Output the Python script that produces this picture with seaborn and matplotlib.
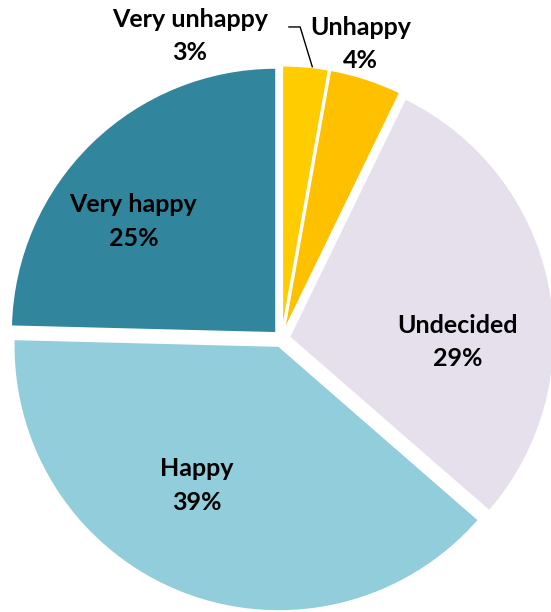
import matplotlib
matplotlib.use("Agg")
import matplotlib.pyplot as plt
import seaborn as sns
import numpy as np

sns.set_theme(style="white")
plt.rcParams["font.family"] = ["Lato", "DejaVu Sans"]

# Survey responses (share of respondents, %)
categories = ["Very unhappy", "Unhappy", "Undecided", "Happy", "Very happy"]
shares = [2.8, 4.4, 29.2, 39.0, 24.6]
colors = ["#FFCC00", "#FFC000", "#E6E0EC", "#92CDDC", "#31859C"]

# Label anchor points, in units of the pie radius
label_pos = [(-0.347, 1.142), (0.297, 1.112), (0.664, -0.013),
             (-0.320, -0.555), (-0.559, 0.442)]

W, H, DPI = 551, 612, 100
cx, cy, R = 281.6, 338.6, 265.0

fig = plt.figure(figsize=(W / DPI, H / DPI), dpi=DPI)
ax = fig.add_axes([0, 0, 1, 1])

wedges, _ = ax.pie(
    shares,
    colors=colors,
    startangle=90,
    counterclock=False,
    explode=[0.03] * len(shares),
    radius=1.0,
    wedgeprops=dict(edgecolor="white", linewidth=1.2),
)

ax.set_xlim(-cx / R, (W - cx) / R)
ax.set_ylim(-(H - cy) / R, cy / R)
ax.set_aspect("equal")
ax.axis("off")

for name, val, (x, y) in zip(categories, shares, label_pos):
    ax.text(x, y, f"{name}\n{val:.0f}%", ha="center", va="center",
            fontsize=18, fontweight="bold", color="black", linespacing=1.55)

# Leader line from the smallest slice to its label
w0 = wedges[0]
mid = np.deg2rad((w0.theta1 + w0.theta2) / 2 - 1.5)
ex, ey = w0.center
tip = (ex + w0.r * np.cos(mid), ey + w0.r * np.sin(mid))
elbow_y = 1.176
ax.plot([0.025, 0.070, tip[0]], [elbow_y, elbow_y, tip[1]],
        color="black", lw=1.0, solid_capstyle="butt", clip_on=False)

fig.savefig("out.png", dpi=DPI)
